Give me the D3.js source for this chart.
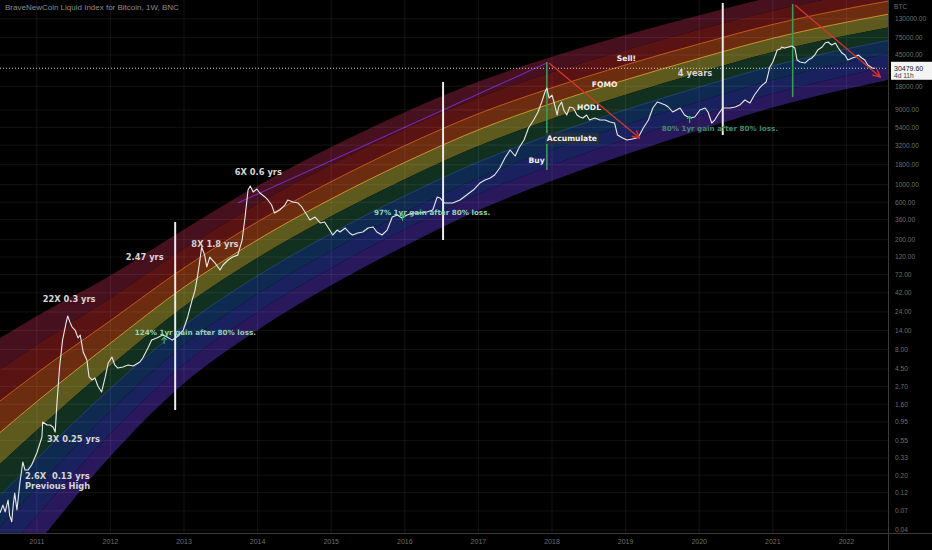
<!DOCTYPE html>
<html><head><meta charset="utf-8">
<script src="https://cdn.jsdelivr.net/npm/d3@7"></script>
<style>
html,body{margin:0;padding:0;background:#000;}
svg{display:block;}
</style></head>
<body>
<svg id="chart" width="932" height="550"></svg>
<script>
// ---------------- data ----------------
const chartTitle = "BraveNewCoin Liquid Index for Bitcoin, 1W, BNC";
const yearTicks = [2011,2012,2013,2014,2015,2016,2017,2018,2019,2020,2021,2022];
const priceTicks = [130000,75000,45000,18000,9000,5400,3200,1800,1000,600,360,200,120,72,42,24,14,8,4.5,2.7,1.6,0.95,0.55,0.33,0.2,0.12,0.07,0.04];
const lastClose = 30479.60;
const countdown = "4d 11h";

// weekly close [decimal year, USD]
const btcWeekly = [
[2010.50,0.066],[2010.54,0.083],[2010.57,0.068],[2010.61,0.096],[2010.63,0.062],[2010.66,0.051],[2010.68,0.083],[2010.70,0.118],[2010.73,0.072],[2010.77,0.159],
[2010.81,0.294],[2010.84,0.232],[2010.88,0.232],[2010.93,0.269],[2011.00,0.383],[2011.07,0.612],[2011.08,0.95],[2011.14,0.87],[2011.18,0.87],[2011.22,0.82],
[2011.25,0.71],[2011.27,1.47],[2011.31,4.77],[2011.35,10.5],[2011.40,17.8],[2011.42,21.3],[2011.45,17.8],[2011.48,15.4],[2011.52,14.1],[2011.56,11.2],
[2011.59,12.2],[2011.63,7.4],[2011.68,5.86],[2011.71,3.56],[2011.75,3.26],[2011.79,3.45],[2011.83,2.73],[2011.88,2.29],[2011.93,3.56],[2011.97,5.36],
[2012.02,6.4],[2012.06,5.06],[2012.10,4.63],[2012.17,4.77],[2012.24,5.06],[2012.31,4.91],[2012.40,5.52],[2012.44,6.21],[2012.51,8.32],[2012.56,10.5],
[2012.63,11.2],[2012.71,12.2],[2012.77,11.5],[2012.84,10.5],[2012.90,11.5],[2012.99,14.1],[2013.05,20.7],[2013.11,34],[2013.15,45.6],[2013.19,75],
[2013.22,117],[2013.24,161],[2013.28,127],[2013.31,90],[2013.35,120],[2013.42,101],[2013.49,82],[2013.53,95],[2013.60,110],[2013.66,120],
[2013.73,127],[2013.79,198],[2013.83,388],[2013.87,857],[2013.90,964],[2013.94,809],[2013.99,883],[2014.03,786],[2014.10,699],[2014.14,640],
[2014.19,552],[2014.23,436],[2014.30,477],[2014.37,552],[2014.41,640],[2014.48,603],[2014.55,585],[2014.60,521],[2014.67,412],[2014.71,356],
[2014.78,388],[2014.85,326],[2014.91,336],[2014.98,265],[2015.02,229],[2015.08,265],[2015.12,250],[2015.19,281],[2015.25,243],[2015.29,229],
[2015.36,243],[2015.43,250],[2015.50,281],[2015.57,290],[2015.62,250],[2015.69,229],[2015.76,265],[2015.83,388],[2015.90,412],[2015.96,377],
[2016.03,412],[2016.11,436],[2016.21,436],[2016.30,450],[2016.38,477],[2016.44,699],[2016.48,678],[2016.54,585],[2016.65,585],[2016.75,640],
[2016.84,741],[2016.93,857],[2017.02,1052],[2017.09,1150],[2017.16,1220],[2017.22,1331],[2017.29,1633],[2017.36,2193],[2017.43,2772],[2017.50,2324],
[2017.55,2940],[2017.62,3716],[2017.68,5284],[2017.75,6680],[2017.81,8450],[2017.86,11330],[2017.90,14760],[2017.93,17100],[2017.96,12740],[2018.00,13900],
[2018.03,11000],[2018.07,7740],[2018.09,9790],[2018.13,11330],[2018.16,8960],[2018.20,7740],[2018.24,9790],[2018.29,9510],[2018.34,7740],[2018.38,7300],
[2018.42,7080],[2018.47,7740],[2018.51,6680],[2018.58,7080],[2018.65,6680],[2018.72,6680],[2018.79,6300],[2018.85,6120],[2018.89,4300],[2018.96,3940],
[2019.02,3716],[2019.09,3830],[2019.15,3940],[2019.19,4300],[2019.24,5284],[2019.31,6680],[2019.37,9510],[2019.43,11330],[2019.47,11000],[2019.54,10370],
[2019.58,9790],[2019.64,8450],[2019.74,9510],[2019.80,7740],[2019.87,7080],[2019.94,7300],[2020.01,8960],[2020.08,9510],[2020.12,8450],[2020.17,6120],
[2020.21,6680],[2020.28,8450],[2020.32,9510],[2020.42,9510],[2020.49,9790],[2020.55,10370],[2020.62,12020],[2020.69,11000],[2020.75,13900],[2020.82,17100],
[2020.86,18700],[2020.91,20400],[2020.96,31600],[2021.00,36600],[2021.06,52100],[2021.10,53700],[2021.12,56900],[2021.16,55200],[2021.21,56900],[2021.26,58600],
[2021.30,55200],[2021.33,38800],[2021.37,36600],[2021.44,35600],[2021.48,38800],[2021.53,41200],[2021.57,45000],[2021.61,52100],[2021.67,56900],[2021.71,64000],
[2021.75,65900],[2021.80,60300],[2021.85,64000],[2021.89,55200],[2021.94,47600],[2021.98,45000],[2022.02,38800],[2022.08,41200],[2022.12,42400],[2022.16,45000],
[2022.21,41200],[2022.25,38800],[2022.29,33600],[2022.35,30700],[2022.39,30479.6]
];

// rainbow envelope (top / bottom of the 8 colour bands)
const bandYears  = [2010.5, 2011, 2012, 2013, 2014, 2015, 2016, 2017, 2018, 2019, 2020, 2021, 2022, 2022.6];
const bandTop    = [11.16, 21.29, 70.0, 269.2, 973, 3018, 8402, 20620, 42670, 80860, 144600, 248000, 381600, 478300];
const bandBottom = [0.00688, 0.02621, 0.3485, 2.958, 14.16, 52.4, 165.5, 474.3, 1126, 2429, 4956, 9672, 16590, 21990];
const bandNames  = ["Maximum bubble","Sell!","FOMO","Is this a bubble?","HODL","Still cheap","Accumulate","Buy","Fire sale"].slice(0,8);

// annotations
const noteTexts  = ["22X 0.3 yrs","3X 0.25 yrs","2.6X  0.13 yrs","Previous High","2.47 yrs","8X 1.8 yrs","6X 0.6 yrs","4 years"];
const noteDates  = [2011.08, 2011.14, 2010.84, 2010.84, 2012.21, 2013.10, 2013.69, 2019.71];
const noteValues = [32.1, 0.53, 0.179, 0.133, 110, 161, 1331, 24300];

const zoneTexts  = ["Sell!","FOMO","HODL","Accumulate","Buy"];
const zoneDates  = [2018.88, 2018.54, 2018.34, 2017.93, 2017.68];
const zoneValues = [37700, 17600, 8960, 3610, 1893];

const gainTexts  = ["124% 1yr gain after 80% loss.","97% 1yr gain after 80% loss.","80% 1yr gain after 80% loss."];
const gainDates  = [2012.33, 2015.58, 2019.49];
const gainValues = [12.2, 412, 4840];
const gainArrowDates  = [2012.73, 2015.97, 2019.87];
const gainArrowValues = [10.2, 377, 6680];

const vLineDates = [2012.88, 2016.52, 2017.93, 2020.32, 2021.27];
const vLineFrom  = [1.35, 198, 1542, 4300, 13100];
const vLineTo    = [336, 20400, 36600, 206600, 200800];

const trendDates  = [2013.73, 2017.93];
const trendValues = [586, 35600];

const arrowFromDates  = [2017.96, 2021.30];
const arrowFromValues = [35600, 195000];
const arrowToDates    = [2019.19, 2022.46];
const arrowToValues   = [3940, 23600];

// ---------------- drawing ----------------
const W = 932, H = 550, PW = 888, PH = 533;
const svg = d3.select("#chart");
svg.append("rect").attr("width", W).attr("height", H).attr("fill", "#000");

const x = d3.scaleLinear().domain([2010.5, 2022.565]).range([0, PW]);
const y = d3.scaleLog().domain([0.03663, 225800]).range([PH, 0]);

const defs = svg.append("defs");
defs.append("clipPath").attr("id","plotclip").append("rect").attr("width",PW).attr("height",PH);
defs.append("marker").attr("id","redhead").attr("viewBox","0 0 10 10").attr("refX",9).attr("refY",5)
  .attr("markerWidth",7).attr("markerHeight",7).attr("orient","auto")
  .append("path").attr("d","M1,1 L9,5 L1,9").attr("fill","none").attr("stroke","#d8342c").attr("stroke-width",1.6);

const plot = svg.append("g").attr("clip-path","url(#plotclip)");

// bands
const NB = 8;
const bandColors = ["#46101f","#5a1313","#6b2c10","#5e591d","#12301f","#0f2a50","#19225f","#29185b"];
function boundary(k, i) {
  const lt = Math.log(bandTop[k]), lb = Math.log(bandBottom[k]);
  return Math.exp(lt + (lb - lt) * i / NB);
}
const idx = d3.range(bandYears.length);
for (let i = 0; i < NB; i++) {
  const area = d3.area()
    .x(k => x(bandYears[k]))
    .y0(k => y(boundary(k, i + 1)))
    .y1(k => y(boundary(k, i)))
    .curve(d3.curveMonotoneX);
  plot.append("path").attr("d", area(idx)).attr("fill", bandColors[i]);
}
function bLine(i, color, w, op) {
  const ln = d3.line().x(k => x(bandYears[k])).y(k => y(boundary(k, i))).curve(d3.curveMonotoneX);
  plot.append("path").attr("d", ln(idx)).attr("fill","none").attr("stroke", color)
    .attr("stroke-width", w).attr("opacity", op);
}
bLine(2, "#d8641e", 1, 0.85);
bLine(3, "#e7a035", 1, 0.85);
bLine(5, "#3f78c0", 0.8, 0.5);

// grid
const grid = svg.append("g");
yearTicks.forEach(t => grid.append("line").attr("x1", x(t)).attr("x2", x(t)).attr("y1", 0).attr("y2", PH)
  .attr("stroke", "#ffffff").attr("stroke-opacity", 0.07));
priceTicks.forEach(v => grid.append("line").attr("x1", 0).attr("x2", PW).attr("y1", y(v)).attr("y2", y(v))
  .attr("stroke", "#ffffff").attr("stroke-opacity", 0.07));

// purple trend line
plot.append("line").attr("x1", x(trendDates[0])).attr("y1", y(trendValues[0]))
  .attr("x2", x(trendDates[1])).attr("y2", y(trendValues[1]))
  .attr("stroke", "#7a2cc0").attr("stroke-width", 1.2).attr("opacity", 0.9);

// current price dotted line
plot.append("line").attr("x1", 0).attr("x2", PW).attr("y1", y(lastClose)).attr("y2", y(lastClose))
  .attr("stroke", "#d0d0d0").attr("stroke-width", 1).attr("stroke-dasharray", "1,2");

// vertical marker lines
const vColors = ["#ececec","#ececec","#3c9a58","#ececec","#3c9a58"];
vLineDates.forEach((t, i) => plot.append("line")
  .attr("x1", x(t)).attr("x2", x(t)).attr("y1", y(vLineFrom[i])).attr("y2", y(vLineTo[i]))
  .attr("stroke", vColors[i]).attr("stroke-width", i === 2 || i === 4 ? 1.6 : 2));

// price line
const priceLine = d3.line().x(d => x(d[0])).y(d => y(d[1]));
plot.append("path").attr("d", priceLine(btcWeekly)).attr("fill","none")
  .attr("stroke", "#e8e8e8").attr("stroke-width", 1.1).attr("stroke-linejoin","round");

// red arrows
arrowFromDates.forEach((t, i) => plot.append("line")
  .attr("x1", x(t)).attr("y1", y(arrowFromValues[i]))
  .attr("x2", x(arrowToDates[i])).attr("y2", y(arrowToValues[i]))
  .attr("stroke", "#d8342c").attr("stroke-width", 1.3).attr("marker-end","url(#redhead)"));

// annotation texts
const lab = svg.append("g").attr("font-family","DejaVu Sans, sans-serif");
noteTexts.forEach((s, i) => lab.append("text").attr("x", x(noteDates[i])).attr("y", y(noteValues[i]))
  .attr("font-size", 8.3).attr("font-weight","bold").attr("fill","#d6d6d6").attr("xml:space","preserve").text(s));

zoneTexts.forEach((s, i) => {
  const tx = lab.append("text").attr("x", x(zoneDates[i])).attr("y", y(zoneValues[i]))
    .attr("font-size", 7.6).attr("font-weight","bold").attr("fill","#f2f2f2").text(s);
  if (s === "Accumulate") {
    const bb = tx.node().getBBox();
    lab.insert("rect", () => tx.node()).attr("x", bb.x - 2).attr("y", bb.y - 1)
      .attr("width", bb.width + 4).attr("height", bb.height + 2).attr("fill", "#26303c").attr("opacity", 0.9);
  }
});

const gainColors = ["#94d3b2","#94d3b2","#3f8c6c"];
gainTexts.forEach((s, i) => lab.append("text").attr("x", x(gainDates[i])).attr("y", y(gainValues[i]))
  .attr("font-size", 7.2).attr("font-weight","bold").attr("fill", gainColors[i]).text(s));
gainArrowDates.forEach((t, i) => {
  const gx = x(t), gy = y(gainArrowValues[i]);
  lab.append("path").attr("d", `M${gx},${gy-4} L${gx-2.5},${gy-1} M${gx},${gy-4} L${gx+2.5},${gy-1} M${gx},${gy-4} L${gx},${gy+3}`)
    .attr("stroke", "#3fae7a").attr("stroke-width", 1.1).attr("fill","none");
});

// axes
const ax = svg.append("g").attr("font-family","Liberation Sans, Arial, sans-serif");
ax.append("line").attr("x1", 0).attr("x2", W).attr("y1", PH + 0.5).attr("y2", PH + 0.5).attr("stroke", "#3a3a3a");
ax.append("line").attr("x1", PW + 0.5).attr("x2", PW + 0.5).attr("y1", 0).attr("y2", H).attr("stroke", "#3a3a3a");
yearTicks.forEach(t => ax.append("text").attr("x", x(t)).attr("y", 544).attr("text-anchor","middle")
  .attr("font-size", 7).attr("fill", "#6e6e6e").text(String(t)));
const fmt = d3.format(".2f");
priceTicks.forEach(v => ax.append("text").attr("x", 895).attr("y", y(v) + 2.4)
  .attr("font-size", 6.6).attr("fill", "#6e6e6e").text(fmt(v)));
ax.append("text").attr("x", 894).attr("y", 9).attr("font-size", 6.6).attr("fill", "#6e6e6e").text("BTC");

// last price label
const ly = y(lastClose);
ax.append("rect").attr("x", 891).attr("y", ly - 6.5).attr("width", 41).attr("height", 18).attr("fill", "#f4f4f4");
ax.append("text").attr("x", 894).attr("y", ly + 2.3).attr("font-size", 7).attr("fill", "#131722").text(fmt(lastClose));
ax.append("text").attr("x", 894).attr("y", ly + 10).attr("font-size", 6.6).attr("fill", "#3a3a3a").text(countdown);

// title
svg.append("text").attr("x", 5).attr("y", 10).attr("font-family","Liberation Sans, Arial, sans-serif")
  .attr("font-size", 8).attr("fill", "#8c8c8c").text(chartTitle);
</script>
</body></html>
